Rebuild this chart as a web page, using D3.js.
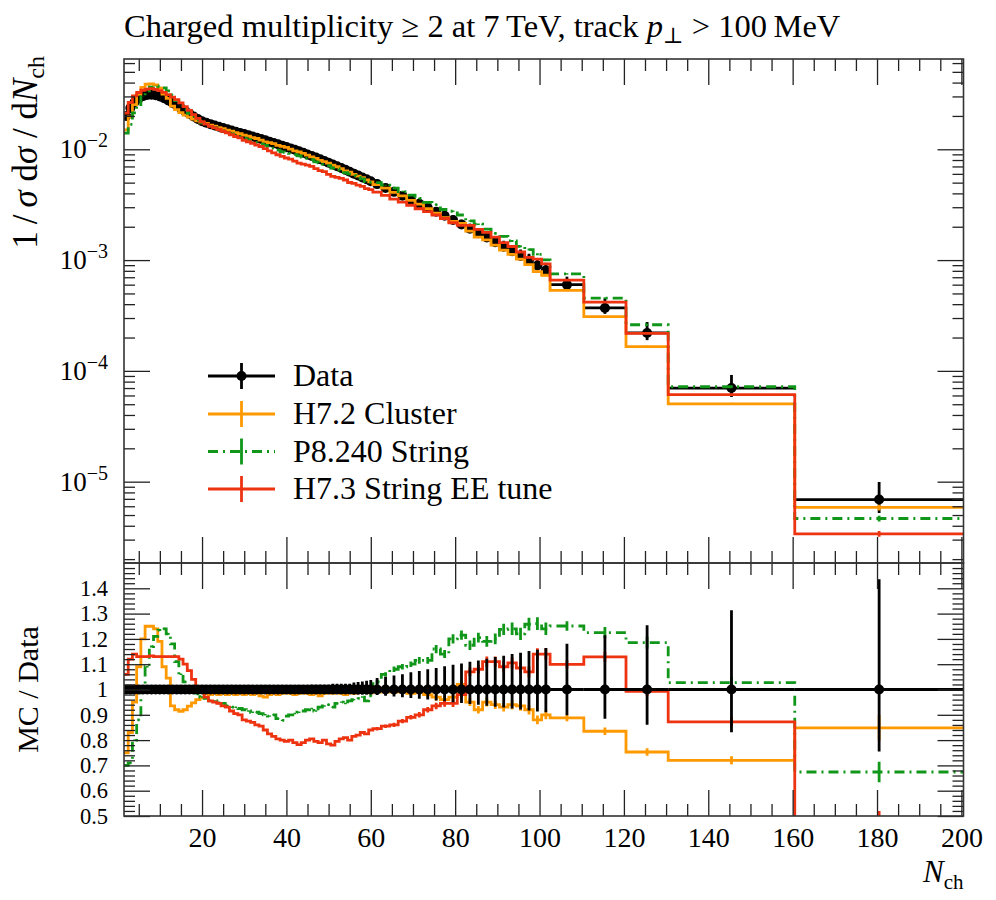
<!DOCTYPE html>
<html>
<head>
<meta charset="utf-8">
<script src="https://cdn.jsdelivr.net/npm/d3@7"></script>
<style>
  body { margin: 0; background: #fff; }
  svg text { font-family: "Liberation Serif", "DejaVu Serif", serif; fill: #000; }
</style>
</head>
<body>
<svg id="chart" width="996" height="900"></svg>
<script>
// ---- binning (N_ch, integer multiplicities) ----
const binEdges = [].concat(d3.range(1.5, 60.5, 1), d3.range(60.5, 102.5, 2),
                           [102.5, 110.5, 120.5, 130.5, 160.5, 200.5]);

// ---- data: 1/sigma dsigma/dN_ch ----
const dataVals = [
  0.0200, 0.0236, 0.0266, 0.0288, 0.0302, 0.0309, 0.0311, 0.0308, 0.0300, 0.0289,
  0.0276, 0.0262, 0.0248, 0.0234, 0.0221, 0.0209, 0.0198, 0.0188,
  0.01791, 0.01738, 0.01687, 0.01641, 0.01596, 0.01556, 0.01517, 0.01479, 0.01442, 0.01406,
  0.01371, 0.01337, 0.01303, 0.01271, 0.01239, 0.01205, 0.01172, 0.01140, 0.01109, 0.01079,
  0.01050, 0.01019, 0.00989, 0.00960, 0.00929, 0.00899, 0.00871, 0.00841, 0.00813, 0.00785,
  0.00757, 0.00729, 0.00703, 0.00678, 0.00652, 0.00627, 0.00603, 0.00579, 0.00557, 0.00536,
  0.00515,
  0.00485, 0.00448, 0.00413, 0.00381, 0.00351, 0.00323, 0.00297, 0.00273, 0.00251, 0.00230,
  0.00210, 0.00192, 0.00175, 0.00160, 0.00145, 0.00132, 0.00120, 0.00109, 0.000989, 0.000895,
  0.000811,
  6.0e-4, 3.7e-4, 2.2e-4, 7.0e-5, 6.9e-6
];
// relative uncertainties of the data (up / down)
const dataErrUp = [
  0.012, 0.012, 0.012, 0.012, 0.012, 0.012, 0.012, 0.012, 0.012, 0.012,
  0.012, 0.012, 0.012, 0.012, 0.012, 0.012, 0.012, 0.012, 0.012, 0.012,
  0.012, 0.012, 0.012, 0.012, 0.012, 0.012, 0.012, 0.012, 0.012,
  0.013, 0.013, 0.013, 0.013, 0.013, 0.014, 0.014, 0.014, 0.014, 0.014,
  0.016, 0.016, 0.016, 0.016, 0.016, 0.019, 0.019, 0.019, 0.019, 0.019,
  0.023, 0.023, 0.023, 0.023, 0.023, 0.028, 0.030, 0.032, 0.035, 0.038,
  0.045, 0.050, 0.055, 0.060, 0.068, 0.073, 0.080, 0.085, 0.092, 0.098,
  0.103, 0.110, 0.115, 0.122, 0.128, 0.133, 0.140, 0.145, 0.152, 0.157, 0.164,
  0.181, 0.214, 0.254, 0.313, 0.436
];
const dataErrDn = [
  0.012, 0.012, 0.012, 0.012, 0.012, 0.012, 0.012, 0.012, 0.012, 0.012,
  0.012, 0.012, 0.012, 0.012, 0.012, 0.012, 0.012, 0.012, 0.012, 0.012,
  0.012, 0.012, 0.012, 0.012, 0.012, 0.012, 0.012, 0.012, 0.012,
  0.012, 0.012, 0.012, 0.012, 0.012, 0.013, 0.013, 0.013, 0.013, 0.013,
  0.014, 0.014, 0.014, 0.014, 0.014, 0.016, 0.016, 0.016, 0.016, 0.016,
  0.018, 0.018, 0.018, 0.018, 0.018, 0.020, 0.020, 0.020, 0.020, 0.020,
  0.022, 0.025, 0.028, 0.031, 0.034, 0.037, 0.040, 0.043, 0.046, 0.050,
  0.053, 0.057, 0.060, 0.064, 0.068, 0.071, 0.075, 0.079, 0.083, 0.087, 0.090,
  0.102, 0.116, 0.139, 0.169, 0.245
];

// ---- MC / Data ratios ----
const ratioH72 = [
  0.75, 0.83, 0.95, 1.09, 1.20, 1.25, 1.25, 1.24, 1.19, 1.09,
  1.045, 0.935, 0.92, 0.914, 0.92, 0.934, 0.947, 0.96, 0.967, 0.985,
  0.98, 0.985, 0.98, 0.985, 0.98, 0.985, 0.98, 0.985, 0.98, 0.985,
  0.98, 0.985, 0.975, 0.97, 0.98, 0.985, 0.98, 0.985, 0.99, 0.985,
  0.98, 0.985, 0.99, 0.985, 0.98, 0.985, 0.975, 0.985, 0.99, 0.985,
  0.99, 0.985, 0.98, 0.99, 0.985, 0.99, 0.995, 0.99, 0.987,
  0.99, 0.995, 0.99, 0.995, 0.985, 0.99, 0.98, 0.97, 0.96, 0.97,
  1.02, 0.95, 0.92, 0.95, 0.94, 0.93, 0.94, 0.935, 0.92, 0.88, 0.90,
  0.888, 0.835, 0.753, 0.72, 0.848
];
const ratioP8 = [
  0.70, 0.71, 0.80, 0.88, 0.99, 1.09, 1.17, 1.21, 1.235, 1.24,
  1.22, 1.18, 1.11, 1.06, 1.03, 1.01, 0.995, 0.98, 0.97, 0.965,
  0.955, 0.955, 0.95, 0.945, 0.935, 0.93, 0.93, 0.925, 0.92, 0.915,
  0.91, 0.91, 0.905, 0.90, 0.895, 0.90, 0.885, 0.878, 0.895, 0.90,
  0.905, 0.91, 0.915, 0.92, 0.925, 0.915, 0.93, 0.935, 0.94, 0.93,
  0.945, 0.95, 0.945, 0.955, 0.96, 0.965, 0.97, 0.955, 0.975,
  1.03, 1.06, 1.08, 1.09, 1.10, 1.115, 1.115, 1.16, 1.14, 1.20,
  1.215, 1.175, 1.205, 1.19, 1.20, 1.238, 1.24, 1.22, 1.258, 1.26, 1.24,
  1.251, 1.225, 1.185, 1.027, 0.674
];
const ratioH73 = [
  1.06, 1.12, 1.14, 1.13, 1.13, 1.13, 1.133, 1.13, 1.13, 1.13,
  1.13, 1.13, 1.13, 1.12, 1.10, 1.075, 1.04, 1.01, 0.99, 0.97,
  0.955, 0.95, 0.945, 0.935, 0.93, 0.915, 0.905, 0.90, 0.88, 0.875,
  0.87, 0.86, 0.855, 0.84, 0.825, 0.815, 0.805, 0.80, 0.795, 0.80,
  0.79, 0.782, 0.79, 0.80, 0.805, 0.795, 0.79, 0.80, 0.785, 0.78,
  0.795, 0.805, 0.81, 0.80, 0.815, 0.82, 0.83, 0.825, 0.84,
  0.845, 0.855, 0.86, 0.875, 0.89, 0.90, 0.92, 0.935, 0.945, 0.945,
  0.98, 1.07, 1.08, 1.11, 1.11, 1.09, 1.105, 1.085, 1.07, 1.14, 1.14,
  1.099, 1.129, 0.993, 0.872, 0.49
];
// relative MC statistical uncertainty
const mcErr = [
  0.003, 0.003, 0.003, 0.003, 0.003, 0.003, 0.003, 0.003, 0.003, 0.003,
  0.003, 0.003, 0.003, 0.003, 0.003, 0.003, 0.003, 0.003, 0.003, 0.003,
  0.003, 0.003, 0.003, 0.003, 0.003, 0.003, 0.003, 0.003, 0.003, 0.003,
  0.003, 0.003, 0.003, 0.003, 0.003, 0.003, 0.003, 0.003, 0.003, 0.003,
  0.003, 0.003, 0.003, 0.003, 0.003, 0.003, 0.003, 0.003, 0.003, 0.003,
  0.003, 0.003, 0.003, 0.003, 0.003, 0.003, 0.003, 0.003, 0.003,
  0.008, 0.008, 0.010, 0.010, 0.010, 0.012, 0.012, 0.014, 0.014, 0.015,
  0.015, 0.016, 0.016, 0.018, 0.018, 0.018, 0.020, 0.020, 0.020, 0.020, 0.020,
  0.015, 0.018, 0.020, 0.022, 0.060
];

const legendLabels = ['Data', 'H7.2 Cluster', 'P8.240 String', 'H7.3 String EE tune'];
const xMajorTicks = [20, 40, 60, 80, 100, 120, 140, 160, 180, 200];
const ratioTicks = [0.5, 0.6, 0.7, 0.8, 0.9, 1, 1.1, 1.2, 1.3, 1.4];
const mainDecades = [1e-2, 1e-3, 1e-4, 1e-5];

// ---- layout ----
const L = 124, R = 963.5, T = 59, M = 563, B = 816;
const svg = d3.select('#chart');

const x = d3.scaleLinear().domain([1.5, 200.5]).range([L, R]);
const yMain = d3.scaleLog().domain([1.845e-6, 0.0653]).range([M, T]);
const yRat = d3.scaleLinear().domain([0.5, 1.5]).range([B, M]);

const bins = binEdges.slice(0, -1).map((lo, i) => ({ lo: lo, hi: binEdges[i + 1], c: (lo + binEdges[i + 1]) / 2 }));

const series = [
  { label: legendLabels[1], color: '#FF9900', ratio: ratioH72, dash: null },
  { label: legendLabels[2], color: '#109618', ratio: ratioP8, dash: '10,5,2,5' },
  { label: legendLabels[3], color: '#EE3311', ratio: ratioH73, dash: null }
];

const defs = svg.append('defs');
defs.append('clipPath').attr('id', 'clipMain').append('rect')
  .attr('x', L).attr('y', T).attr('width', R - L).attr('height', M - T);
defs.append('clipPath').attr('id', 'clipRat').append('rect')
  .attr('x', L).attr('y', M).attr('width', R - L).attr('height', B - M);

const gMain = svg.append('g').attr('clip-path', 'url(#clipMain)');
const gRat = svg.append('g').attr('clip-path', 'url(#clipRat)');

function stepLine(vals, yS) {
  const pts = [];
  bins.forEach((b, i) => { pts.push([x(b.lo), yS(vals[i])]); pts.push([x(b.hi), yS(vals[i])]); });
  return d3.line()(pts);
}

function drawData(g, yS, vals) {
  g.selectAll(null).data(bins).enter().append('line')
    .attr('x1', b => x(b.lo)).attr('x2', b => x(b.hi))
    .attr('y1', (b, i) => yS(vals[i])).attr('y2', (b, i) => yS(vals[i]))
    .attr('stroke', '#000').attr('stroke-width', 2.8);
  g.selectAll(null).data(bins).enter().append('line')
    .attr('x1', b => x(b.c)).attr('x2', b => x(b.c))
    .attr('y1', (b, i) => yS(vals[i] * (1 + dataErrUp[i])))
    .attr('y2', (b, i) => yS(vals[i] * (1 - dataErrDn[i])))
    .attr('stroke', '#000').attr('stroke-width', 2.8);
  g.selectAll(null).data(bins).enter().append('circle')
    .attr('cx', b => x(b.c)).attr('cy', (b, i) => yS(vals[i]))
    .attr('r', 5).attr('fill', '#000');
}

function drawMC(g, yS, s, vals) {
  g.append('path')
    .attr('d', stepLine(vals, yS))
    .attr('fill', 'none')
    .attr('stroke', s.color)
    .attr('stroke-width', 2.8)
    .attr('stroke-dasharray', s.dash);
  g.selectAll(null)
    .data(bins)
    .enter()
    .append('line')
    .attr('x1', b => x(b.c)).attr('x2', b => x(b.c))
    .attr('y1', (b, i) => yS(vals[i] * (1 + mcErr[i])))
    .attr('y2', (b, i) => yS(vals[i] * (1 - mcErr[i])))
    .attr('stroke', s.color)
    .attr('stroke-width', 2.8);
}

// main panel: data below the MC lines
drawData(gMain, yMain, dataVals);
series.forEach(s => drawMC(gMain, yMain, s, dataVals.map((v, i) => v * s.ratio[i])));
// ratio panel: data on top
series.forEach(s => drawMC(gRat, yRat, s, s.ratio));
drawData(gRat, yRat, dataVals.map(() => 1));

// ---- frames and ticks ----
function styleAxis(g) {
  g.select('.domain').remove();
  g.attr('font-family', null).attr('font-size', null);
  g.selectAll('.tick line').attr('stroke', '#222').attr('stroke-width', 1.3);
  return g;
}
const xMinorTicks = d3.range(5, 201, 5).filter(v => v % 20 !== 0);

[T, M].forEach(yy => {
  styleAxis(svg.append('g').attr('transform', `translate(0,${yy})`)
    .call(d3.axisTop(x).tickValues(xMajorTicks).tickSize(-26).tickFormat('')));
  styleAxis(svg.append('g').attr('transform', `translate(0,${yy})`)
    .call(d3.axisTop(x).tickValues(xMinorTicks).tickSize(-12).tickFormat('')));
});
styleAxis(svg.append('g').attr('transform', `translate(0,${M})`)
  .call(d3.axisBottom(x).tickValues(xMajorTicks).tickSize(-26).tickFormat('')));
styleAxis(svg.append('g').attr('transform', `translate(0,${M})`)
  .call(d3.axisBottom(x).tickValues(xMinorTicks).tickSize(-12).tickFormat('')));
const xLab = styleAxis(svg.append('g').attr('transform', `translate(0,${B})`)
  .call(d3.axisBottom(x).tickValues(xMajorTicks).tickSize(-26).tickPadding(11)));
xLab.selectAll('text').attr('font-size', 28);
styleAxis(svg.append('g').attr('transform', `translate(0,${B})`)
  .call(d3.axisBottom(x).tickValues(xMinorTicks).tickSize(-12).tickFormat('')));

// main y (log)
const mainMinor = [];
[-6, -5, -4, -3, -2].forEach(k => d3.range(2, 10).forEach(m => {
  const v = m * Math.pow(10, k);
  if (v > yMain.domain()[0] && v < yMain.domain()[1]) mainMinor.push(v);
}));
const yMainLab = styleAxis(svg.append('g').attr('transform', `translate(${L},0)`)
  .call(d3.axisLeft(yMain).tickValues(mainDecades).tickSize(-26).tickPadding(16)));
yMainLab.selectAll('text').each(function (d) {
  const t = d3.select(this).text(null).attr('font-size', 27);
  t.append('tspan').text('10');
  t.append('tspan').attr('dy', -11).attr('font-size', 20).text('\u2212' + Math.round(-Math.log10(d)));
});
styleAxis(svg.append('g').attr('transform', `translate(${L},0)`)
  .call(d3.axisLeft(yMain).tickValues(mainMinor).tickSize(-11).tickFormat('')));
styleAxis(svg.append('g').attr('transform', `translate(${R},0)`)
  .call(d3.axisRight(yMain).tickValues(mainDecades).tickSize(-26).tickFormat('')));
styleAxis(svg.append('g').attr('transform', `translate(${R},0)`)
  .call(d3.axisRight(yMain).tickValues(mainMinor).tickSize(-11).tickFormat('')));

// ratio y
const ratMinor = d3.range(0, 51).map(i => 0.5 + i * 0.02)
  .filter(v => Math.abs(v * 10 - Math.round(v * 10)) > 1e-6);
const yRatLab = styleAxis(svg.append('g').attr('transform', `translate(${L},0)`)
  .call(d3.axisLeft(yRat).tickValues(ratioTicks).tickSize(-26).tickPadding(16)
    .tickFormat(d => d === 1 ? '1' : d3.format('.1f')(d))));
yRatLab.selectAll('text').attr('font-size', 22.5);
styleAxis(svg.append('g').attr('transform', `translate(${L},0)`)
  .call(d3.axisLeft(yRat).tickValues(ratMinor).tickSize(-11).tickFormat('')));
styleAxis(svg.append('g').attr('transform', `translate(${R},0)`)
  .call(d3.axisRight(yRat).tickValues(ratioTicks).tickSize(-26).tickFormat('')));
styleAxis(svg.append('g').attr('transform', `translate(${R},0)`)
  .call(d3.axisRight(yRat).tickValues(ratMinor).tickSize(-11).tickFormat('')));

[[T, M], [M, B]].forEach(([a, b]) => {
  svg.append('rect').attr('x', L).attr('y', a).attr('width', R - L).attr('height', b - a)
    .attr('fill', 'none').attr('stroke', '#333').attr('stroke-width', 1.6);
});

// ---- texts ----
const title = svg.append('text').attr('x', L).attr('y', 37).attr('font-size', 32.5);
title.append('tspan').text('Charged multiplicity \u2265 2 at 7\u2009TeV, track ');
title.append('tspan').attr('font-style', 'italic').text('p');
title.append('tspan').attr('font-size', 22).attr('dy', 6).text('\u22a5');
title.append('tspan').attr('dy', -6).text(' > 100\u2009MeV');

const yl = svg.append('text').attr('transform', `translate(37,${T - 3}) rotate(-90)`)
  .attr('text-anchor', 'end').attr('font-size', 35);
yl.append('tspan').text('1\u2009/\u2009');
yl.append('tspan').attr('font-style', 'italic').text('\u03c3');
yl.append('tspan').text(' d');
yl.append('tspan').attr('font-style', 'italic').text('\u03c3');
yl.append('tspan').text(' / d');
yl.append('tspan').attr('font-style', 'italic').text('N');
yl.append('tspan').attr('font-size', 24).attr('dy', 7).text('ch');

svg.append('text').attr('transform', `translate(38,${(M + B) / 2}) rotate(-90)`)
  .attr('text-anchor', 'middle').attr('font-size', 30).text('MC / Data');

const xl = svg.append('text').attr('x', R).attr('y', 882).attr('text-anchor', 'end').attr('font-size', 31);
xl.append('tspan').attr('font-style', 'italic').text('N');
xl.append('tspan').attr('font-size', 21).attr('dy', 7).text('ch');

// ---- legend ----
const legRows = [376, 414, 451.5, 489];
const leg = svg.append('g');
legendLabels.forEach((lab, i) => {
  const yy = legRows[i];
  const s = i === 0 ? { color: '#000', dash: null } : series[i - 1];
  leg.append('line').attr('x1', 208).attr('x2', 275).attr('y1', yy).attr('y2', yy)
    .attr('stroke', s.color).attr('stroke-width', 2.8).attr('stroke-dasharray', s.dash);
  leg.append('line').attr('x1', 241.5).attr('x2', 241.5).attr('y1', yy - 13).attr('y2', yy + 13)
    .attr('stroke', s.color).attr('stroke-width', 2.8);
  if (i === 0) leg.append('circle').attr('cx', 241.5).attr('cy', yy).attr('r', 5).attr('fill', '#000');
  leg.append('text').attr('x', 293).attr('y', yy + 10).attr('font-size', 32).text(lab);
});
</script>
</body>
</html>
